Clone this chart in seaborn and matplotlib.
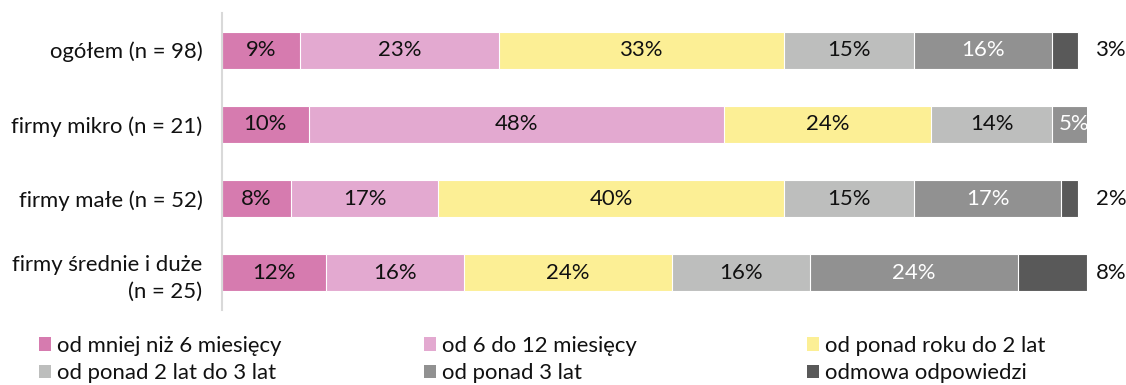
import numpy as np
import pandas as pd
import matplotlib
matplotlib.use("Agg")
import matplotlib.pyplot as plt
from matplotlib.patches import Patch
import seaborn as sns

# Survey answers: how long the firms have been at it, by firm size (percent)
categories = ["ogółem (n = 98)", "firmy mikro (n = 21)", "firmy małe (n = 52)",
              "firmy średnie i duże\n(n = 25)"]
series = ["od mniej niż 6 miesięcy", "od 6 do 12 miesięcy", "od ponad roku do 2 lat",
          "od ponad 2 lat do 3 lat", "od ponad 3 lat", "odmowa odpowiedzi"]
under_6m = [9, 10, 8, 12]
from_6_to_12m = [23, 48, 17, 16]
from_1_to_2y = [33, 24, 40, 24]
from_2_to_3y = [15, 14, 15, 16]
over_3y = [16, 5, 17, 24]
refused = [3, 0, 2, 8]

colors = ["#D67BAF", "#E3A9D0", "#FCEF95", "#BDBEBD", "#919191", "#595959"]
label_colors = ["#111111", "#111111", "#111111", "#111111", "#FFFFFF", "#111111"]

values = [under_6m, from_6_to_12m, from_1_to_2y, from_2_to_3y, over_3y, refused]
df = pd.DataFrame(dict(zip(series, values)), index=categories)
cum = df.cumsum(axis=1)

sns.set_theme(style="white")
plt.rcParams["font.family"] = ["Lato", "DejaVu Sans"]

W, H, DPI = 1126, 385, 100
fig = plt.figure(figsize=(W / DPI, H / DPI), dpi=DPI)
ax = fig.add_axes([222 / W, 1 - 310 / H, 865 / W, (310 - 13) / H])

# Stacked bars: draw cumulative totals from the longest down to the shortest
for i in range(len(series) - 1, -1, -1):
    sns.barplot(x=cum[series[i]].values, y=categories, orient="h", color=colors[i],
                width=0.5, edgecolor="white", linewidth=0.8, ax=ax, saturation=1)

fs = 15.9
for j, cat in enumerate(categories):
    for i, s in enumerate(series):
        v = df.loc[cat, s]
        if v <= 0:
            continue
        if i == len(series) - 1:
            ax.annotate(f"{v}%", xy=(100, j), xytext=(6.5, 0), textcoords="offset points",
                        ha="left", va="center", fontsize=fs, color="#111111")
        else:
            mid = cum.loc[cat, s] - v / 2
            ax.text(mid, j, f"{v}%", ha="center", va="center", fontsize=fs,
                    color=label_colors[i])

ax.set_xlim(0, 100)
ax.set_ylim(3.5, -0.5)
ax.set_xlabel("")
ax.set_ylabel("")
ax.set_xticks([])
ax.tick_params(axis="y", length=0, pad=14, labelsize=fs, labelcolor="#111111")
for lbl in ax.get_yticklabels():
    lbl.set_linespacing(1.45)
for side in ["top", "right", "bottom"]:
    ax.spines[side].set_visible(False)
ax.spines["left"].set_color("#D9D9D9")
ax.spines["left"].set_linewidth(1.5)

# Legend in three columns of two entries
handles = [Patch(facecolor=c, edgecolor="none") for c in colors]
col_x = [39, 424, 807]
for k in range(3):
    idx = [k, k + 3]
    leg = fig.legend([handles[n] for n in idx], [series[n] for n in idx],
                     loc="upper left", bbox_to_anchor=(col_x[k] / W, 1 - 336 / H),
                     frameon=False, fontsize=fs, handlelength=0.56, handleheight=0.56,
                     handletextpad=0.27, labelspacing=0.33, borderpad=0, borderaxespad=0)
    for t in leg.get_texts():
        t.set_color("#111111")

fig.savefig("out.png", dpi=DPI)
